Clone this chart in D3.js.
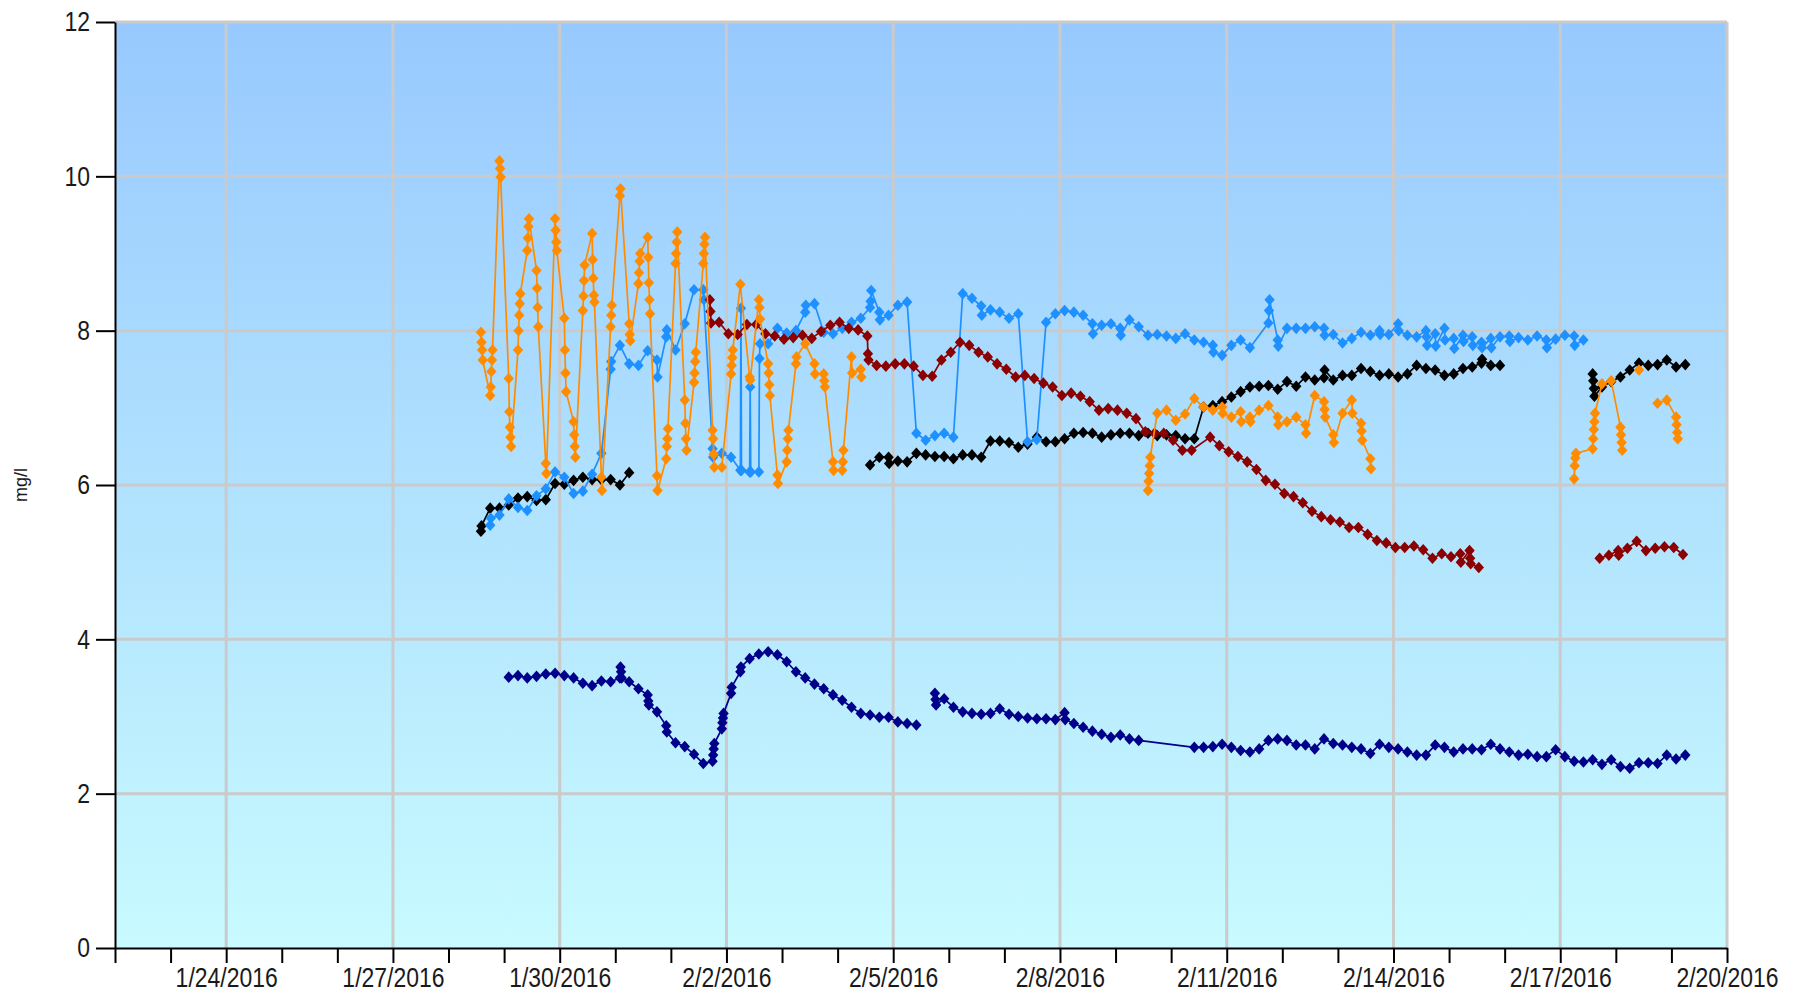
<!DOCTYPE html>
<html>
<head>
<meta charset="utf-8">
<script src="https://cdn.jsdelivr.net/npm/d3@7"></script>
<style>
  html, body { margin: 0; padding: 0; background: #ffffff; }
  svg { display: block; }
</style>
</head>
<body>
<svg id="chart" width="1799" height="996"></svg>
<script>
// ---- Axis settings --------------------------------------------------------
const yTickValues = [0, 2, 4, 6, 8, 10, 12];
const yGridValues = [2, 4, 6, 8, 10, 12];
const xStart = "2016-01-22";
const xEnd = "2016-02-20";
const xLabelDays = ["2016-01-24", "2016-01-27", "2016-01-30", "2016-02-02", "2016-02-05",
                    "2016-02-08", "2016-02-11", "2016-02-14", "2016-02-17", "2016-02-20"];
const yAxisTitle = "mg/l";

// Readings are logged every 4 hours. A nested list holds several readings
// taken within the same slot; null marks a missing slot (the line bridges it).
const SAMPLE_HOURS = 4;

const orangeSegments = [
  { start: "2016-01-28T14:00", values: [
    [7.98, 7.85, 7.75, 7.62], [7.16, 7.27, 7.47, 7.62, 7.75], [10.20, 10.10, 9.99], [7.38, 6.95, 6.75, 6.62, 6.50],
    [7.75, 8.00, 8.20, 8.35, 8.48], [9.04, 9.20, 9.35, 9.45], [8.78, 8.55, 8.30, 8.05], [6.28, 6.15],
    [9.45, 9.30, 9.15, 9.04], [8.16, 7.75, 7.45, 7.21], [6.82, 6.65, 6.50, 6.36], [8.26, 8.45, 8.65, 8.85],
    [9.26, 8.92, 8.68, 8.46, 8.37], [6.10, 5.93], [8.05, 8.20, 8.33], [9.75, 9.84],
    [8.09, 7.95, 7.87], [8.61, 8.75, 8.90, 9.00], [9.21, 8.95, 8.62, 8.40, 8.22], [6.12, 5.93],
    [6.34, 6.50, 6.60, 6.73], [8.87, 9.00, 9.15, 9.28], [7.10, 6.80, 6.60, 6.45], [7.33, 7.45, 7.60, 7.72],
    [8.87, 9.00, 9.12, 9.21], [6.71, 6.60, 6.40, 6.23], 6.23, [7.44, 7.55, 7.65, 7.75],
    8.60, [7.40, 7.36], [8.40, 8.30, 8.15], [7.57, 7.45, 7.30, 7.16],
    [6.13, 6.02], [6.30, 6.45, 6.60, 6.71], [7.57, 7.66], 7.83,
    [7.57, 7.44], [7.44, 7.35, 7.27], [6.30, 6.19], [6.19, 6.30, 6.45],
    [7.66, 7.45], [7.50, 7.40]
  ]},
  { start: "2016-02-09T14:00", values: [
    [5.93, 6.05, 6.15, 6.25, 6.36], 6.93, 6.97, 6.84, 6.92, 7.12, 7.01, 6.97, [7.01, 6.93], 6.88,
    [6.95, 6.82], [6.88, 6.82], 6.97, 7.03, [6.88, 6.78], 6.82, 6.88, [6.78, 6.67], 7.16,
    [7.08, 6.98, 6.88], [6.65, 6.55], 6.93, [7.10, 6.93], [6.80, 6.70, 6.58], [6.34, 6.21]
  ]},
  { start: "2016-02-17T06:00", values: [
    [6.08, 6.25, 6.35, 6.41], null, [6.47, 6.60, 6.72, 6.82, 6.93], 7.31, 7.35, [6.75, 6.65, 6.55, 6.45]
  ]},
  { start: "2016-02-18T10:00", values: [7.49] },
  { start: "2016-02-18T18:00", values: [7.06, 7.10, [6.88, 6.78, 6.68, 6.60]] }
];

const blueSegments = [
  { start: "2016-01-28T18:00", values: [
    [5.48, 5.57], 5.61, 5.82, 5.71, 5.67, 5.86, 5.95, 6.17, 6.10, 5.89, 5.92, 6.14, 6.41,
    [7.50, 7.60], 7.81, 7.57, 7.55, 7.74, [7.62, 7.40], [7.92, 8.01], 7.75, 8.09, 8.53,
    [8.53, 8.40], [6.47, 6.36], 6.41, 6.36,
    [6.19, 8.29, 6.19], [6.17, 7.27, 6.17], [6.17, 7.64, 7.83], 7.83, 8.03, 7.97, 8.00,
    [8.24, 8.33], 8.35, 7.98, 7.96, 8.03, 8.11, 8.16, [8.30, 8.38, 8.52], [8.24, 8.14],
    8.20, 8.33, 8.37, 6.67, 6.58, 6.64, 6.67, 6.62, 8.48, 8.42, [8.32, 8.20], 8.27, 8.24,
    8.16, 8.22, 6.56, 6.59,
    8.11, 8.22, 8.26, 8.24, 8.20, [8.09, 7.96], 8.07, 8.09, [8.03, 7.94], 8.14, 8.05,
    7.94, 7.95, 7.93, 7.90, 7.96, 7.88, 7.85, [7.81, 7.72], 7.68, 7.81, 7.88, 7.78, null,
    [8.10, 8.26, 8.40], [7.88, 7.80], 8.03, 8.03, 8.03, 8.05,
    [8.03, 7.94], 7.95, 7.84, 7.90, 7.98, 7.94, [8.00, 7.95], 7.95, [8.09, 8.00], 7.94,
    7.92, [8.00, 7.92, 7.81], [7.96, 7.80], [8.03, 7.88], [7.90, 7.77], [7.94, 7.86],
    [7.92, 7.81], [7.85, 7.78], [7.90, 7.78], 7.92, [7.93, 7.86], 7.91, 7.88, 7.93,
    [7.88, 7.78], 7.89, 7.94, [7.93, 7.81], 7.88
  ]}
];

const redSegments = [
  { start: "2016-02-01T16:50", values: [
    [8.40, 8.25, 8.10], 8.11, 7.96, 7.95, 8.08, 8.08, 7.96, 7.93, 7.89, 7.91, 7.94, 7.90,
    7.99, 8.07, 8.11, 8.03, 8.01, [7.93, 7.70, 7.62], 7.55, 7.54, 7.57, 7.57, 7.54, 7.42,
    7.41, 7.62, 7.72, 7.85, 7.81, 7.72, 7.66, 7.57, 7.50, 7.40, 7.42, 7.38,
    7.32, 7.27, 7.16, 7.19, 7.15, 7.08, 6.97, 6.99, 6.97, 6.93, 6.86, 6.69, 6.67, 6.67,
    6.58, 6.45, 6.45, null, 6.62, 6.51, 6.43, 6.37, 6.30, 6.20, 6.06, 6.01, 5.89, 5.85,
    5.77, 5.66, 5.59, 5.55, 5.52, 5.45, 5.45, 5.36, 5.28, 5.25, 5.19, 5.19, 5.21, 5.16,
    5.05, 5.11, 5.07, [5.11, 5.00], [5.15, 5.05, 4.98], 4.93
  ]},
  { start: "2016-02-17T17:00", values: [
    5.05, 5.09, [5.15, 5.09], 5.18, 5.27, 5.15, 5.18, 5.20, 5.19, 5.10
  ]}
];

const blackSegments = [
  { start: "2016-01-28T14:00", values: [
    [5.40, 5.47], 5.70, 5.70, 5.74, 5.83, 5.85, 5.80, 5.81, 6.02, 6.01, 6.06, 6.10, 6.07,
    6.07, 6.07, 6.00, 6.16
  ]},
  { start: "2016-02-04T14:00", values: [
    6.26, 6.36, [6.36, 6.28], 6.31, 6.30, 6.41, 6.39, 6.37, 6.37, 6.34, 6.39, 6.39, 6.36,
    6.57, 6.57, 6.55, 6.49, 6.53, 6.62,
    6.56, 6.56, 6.60, 6.67, 6.68, 6.67, 6.62, 6.65, 6.67, 6.67, 6.64, 6.67, 6.64, 6.65,
    6.64, 6.60, 6.60, 7.01, 7.03, 7.08, 7.14, 7.21, 7.27, 7.28, 7.29, 7.24, 7.34, 7.28,
    7.40, 7.36, [7.39, 7.49], 7.36, 7.42, 7.42, 7.51, 7.47, 7.42, 7.44, 7.40, 7.44, 7.55,
    7.51, 7.49, 7.42, 7.44, 7.51, 7.53, [7.58, 7.63], 7.55, 7.55
  ]},
  { start: "2016-02-17T14:00", values: [
    [7.44, 7.35, 7.25, 7.15], 7.27, 7.34, 7.40, 7.49, 7.58, 7.55, 7.56, 7.62, 7.53, 7.56
  ]}
];

const navySegments = [
  { start: "2016-01-29T02:00", values: [
    3.51, 3.53, 3.50, 3.52, 3.55, 3.56, 3.53, 3.50, 3.43, 3.40, 3.46, 3.45,
    [3.50, 3.64, 3.58, 3.50], 3.45, 3.36, [3.28, 3.20, 3.15], 3.06, [2.88, 2.80], 2.66, 2.61,
    2.51, 2.39, [2.42, 2.50, 2.58, 2.65], [2.84, 2.92, 2.98, 3.04], [3.30, 3.38], [3.58, 3.64],
    3.75, 3.81, 3.84, 3.80, 3.71, 3.58, 3.50, 3.42, 3.36, 3.28, 3.21, 3.12, 3.04, 3.02,
    2.99, 2.99, 2.93, 2.91, 2.89
  ]},
  { start: "2016-02-05T18:00", values: [
    [3.30, 3.22, 3.15], 3.23, 3.12, 3.06, 3.04, 3.03, 3.04, 3.10, 3.03, 3.00, 2.98, 2.97,
    2.97, 2.96, [3.05, 2.96], 2.91, 2.86, 2.81, 2.77, 2.73, 2.76, 2.71, 2.69,
    null, null, null, null, null,
    2.60, 2.60, 2.61, 2.64, 2.60, 2.56, 2.54, 2.58, 2.69, 2.71, 2.69, 2.63, 2.63, 2.58,
    2.71, 2.65, 2.63, 2.60, 2.58, 2.52, 2.64, 2.60, 2.58, 2.54, 2.50, 2.50, 2.63, 2.60,
    2.54, 2.58, 2.58, 2.57, 2.64, 2.58, 2.54, 2.50, 2.51, 2.48, 2.48, 2.57, 2.48, 2.42,
    2.41, 2.44, 2.38, 2.44, 2.35, 2.33, 2.40, 2.40, 2.39, 2.50, 2.45, 2.50
  ]}
];

// Drawing order: first listed is drawn underneath.
const seriesList = [
  { name: "navy",   color: "#00008B", segments: navySegments },
  { name: "black",  color: "#000000", segments: blackSegments },
  { name: "blue",   color: "#1E90FF", segments: blueSegments },
  { name: "red",    color: "#8B0000", segments: redSegments },
  { name: "orange", color: "#FF8C00", segments: orangeSegments }
];

// ---- Layout ---------------------------------------------------------------
const W = 1799, H = 996;
const plot = { left: 115, top: 22, right: 1727, bottom: 948 };
const FONT = "'Liberation Sans', Arial, sans-serif";
const SQUASH = 0.82;   // narrow rendering of the tick labels

const parseDay = d3.timeParse("%Y-%m-%d");
const parseStamp = d3.timeParse("%Y-%m-%dT%H:%M");
const fmt = d3.timeFormat("%-m/%-d/%Y");

const x = d3.scaleTime()
  .domain([parseDay(xStart), parseDay(xEnd)])
  .range([plot.left, plot.right]);
const y = d3.scaleLinear()
  .domain([0, 12])
  .range([plot.bottom, plot.top]);

const svg = d3.select("#chart");

// Background gradient of the plotting area
const defs = svg.append("defs");
const grad = defs.append("linearGradient")
  .attr("id", "plotBg").attr("x1", 0).attr("y1", 0).attr("x2", 0).attr("y2", 1);
grad.append("stop").attr("offset", "0%").attr("stop-color", "#98C9FE");
grad.append("stop").attr("offset", "100%").attr("stop-color", "#C8FAFF");

svg.append("rect")
  .attr("x", plot.left).attr("y", plot.top)
  .attr("width", plot.right - plot.left).attr("height", plot.bottom - plot.top)
  .attr("fill", "url(#plotBg)");

// Grid lines
const majorDays = xLabelDays.map(parseDay);
const grid = svg.append("g").attr("class", "grid")
  .attr("stroke", "#CACACA").attr("stroke-width", 3);
grid.selectAll("line.v").data(majorDays).join("line")
  .attr("class", "v")
  .attr("x1", d => x(d)).attr("x2", d => x(d))
  .attr("y1", plot.top).attr("y2", plot.bottom);
grid.selectAll("line.h").data(yGridValues).join("line")
  .attr("class", "h")
  .attr("x1", plot.left).attr("x2", plot.right)
  .attr("y1", d => y(d)).attr("y2", d => y(d));

// Series
const diamond = "M0,-5.8L5.2,0L0,5.8L-5.2,0Z";
const line = d3.line().x(d => x(d.t)).y(d => y(d.v));

function expand(segment) {
  const t0 = parseStamp(segment.start);
  const pts = [];
  segment.values.forEach((v, i) => {
    if (v === null) return;
    const base = d3.timeHour.offset(t0, i * SAMPLE_HOURS);
    const list = Array.isArray(v) ? v : [v];
    list.forEach((val, j) => pts.push({ t: d3.timeMinute.offset(base, j * 15), v: val }));
  });
  return pts;
}

const seriesG = svg.append("g").attr("class", "series");
seriesList.forEach(s => {
  const g = seriesG.append("g").attr("class", "s-" + s.name);
  const segs = s.segments.map(expand);
  g.selectAll("path.line").data(segs).join("path")
    .attr("class", "line")
    .attr("d", line)
    .attr("fill", "none")
    .attr("stroke", s.color)
    .attr("stroke-width", 1.7)
    .attr("stroke-linejoin", "round");
  g.selectAll("path.mark").data(segs.flat()).join("path")
    .attr("class", "mark")
    .attr("d", diamond)
    .attr("transform", d => `translate(${x(d.t)},${y(d.v)})`)
    .attr("fill", s.color);
});

// Axes
const majorSet = new Set(majorDays.map(d => +d));
const xAxis = d3.axisBottom(x)
  .tickValues(d3.timeDay.range(parseDay(xStart), d3.timeDay.offset(parseDay(xEnd), 1)))
  .tickFormat(d => majorSet.has(+d) ? fmt(d) : "")
  .tickSizeInner(15).tickSizeOuter(0).tickPadding(4);
const gx = svg.append("g")
  .attr("transform", `translate(0,${plot.bottom})`)
  .call(xAxis);

const yAxis = d3.axisLeft(y)
  .tickValues(yTickValues)
  .tickSizeInner(19).tickSizeOuter(0).tickPadding(6);
const gy = svg.append("g")
  .attr("transform", `translate(${plot.left},0)`)
  .call(yAxis);

[gx, gy].forEach(g => {
  g.select(".domain").attr("stroke", "#000").attr("stroke-width", 2);
  g.selectAll(".tick line").attr("stroke", "#000").attr("stroke-width", 2);
  g.selectAll(".tick text")
    .attr("fill", "#1a1a1a")
    .style("font-family", FONT)
    .style("font-size", "28px");
});
gx.selectAll(".tick text").attr("transform", `scale(${SQUASH},1)`);
gy.selectAll(".tick text")
  .attr("x", -25 / SQUASH)
  .attr("transform", `scale(${SQUASH},1)`);

// Y axis title
svg.append("text")
  .attr("transform", `translate(27,${(plot.top + plot.bottom) / 2}) rotate(-90)`)
  .attr("text-anchor", "middle")
  .style("font-family", FONT)
  .style("font-size", "18px")
  .attr("fill", "#1a1a1a")
  .text(yAxisTitle);
</script>
</body>
</html>
